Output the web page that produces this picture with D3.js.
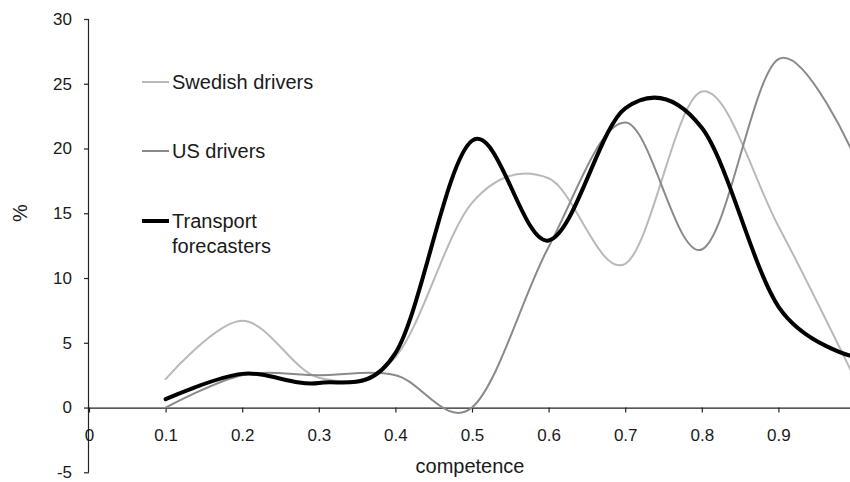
<!DOCTYPE html>
<html>
<head>
<meta charset="utf-8">
<script src="https://cdn.jsdelivr.net/npm/d3@7"></script>
<style>
  html, body { margin: 0; padding: 0; background: #fff; }
  svg { display: block; font-family: "Liberation Sans", Arial, sans-serif; }
</style>
</head>
<body>
<svg id="chart" width="850" height="482"></svg>
<script>
// ---- data ----
const competence = [0.1, 0.2, 0.3, 0.4, 0.5, 0.6, 0.7, 0.8, 0.9, 1.0];
const swedishDrivers = [2.2, 6.7, 2.3, 3.9, 15.8, 17.7, 11.1, 24.4, 14.0, 2.2];
const usDrivers = [0.0, 2.5, 2.5, 2.5, 0.0, 12.4, 22.0, 12.2, 26.9, 19.3];
const transportForecasters = [0.65, 2.6, 1.9, 4.2, 20.6, 12.9, 23.1, 21.6, 7.8, 3.9];
const xTicks = [0, 0.1, 0.2, 0.3, 0.4, 0.5, 0.6, 0.7, 0.8, 0.9, 1];
const yTicks = [-5, 0, 5, 10, 15, 20, 25, 30];
const seriesNames = ["Swedish drivers", "US drivers", "Transport forecasters"];

const series = [
  { name: seriesNames[0], values: swedishDrivers, color: "#b9b9b9", width: 2 },
  { name: seriesNames[1], values: usDrivers, color: "#8a8a8a", width: 2 },
  { name: seriesNames[2], values: transportForecasters, color: "#000000", width: 4 }
];

const svg = d3.select("#chart");
const x = d3.scaleLinear().domain([0, 1]).range([89, 855]);
const y = d3.scaleLinear().domain([-5, 30]).range([472.3, 19]);
const textColor = "#1a1a1a";

// y axis
const yAxis = svg.append("g")
  .attr("transform", `translate(${x(0)},0)`)
  .call(d3.axisLeft(y).tickValues(yTicks).tickSize(5).tickPadding(12).tickFormat(d => String(d)));
yAxis.select(".domain").attr("d", `M-0.5,${y(30)}V${y(-5)}`).attr("stroke", "#222").attr("stroke-width", 1.2);
yAxis.selectAll(".tick line").attr("stroke", "#222").attr("stroke-width", 1.2);
yAxis.selectAll(".tick text").attr("font-size", 17).attr("fill", textColor)
  .attr("font-family", "'Liberation Sans', Arial, sans-serif");

// x axis at y = 0
const xAxis = svg.append("g")
  .attr("transform", `translate(0,${y(0)})`)
  .call(d3.axisBottom(x).tickValues(xTicks).tickSize(5).tickPadding(16)
    .tickFormat(d => d === 0 ? "0" : (d === 1 ? "1" : d3.format(".1f")(d))));
xAxis.select(".domain").attr("d", `M${x(0)},0.5H850`).attr("stroke", "#222").attr("stroke-width", 1.2);
xAxis.selectAll(".tick line").attr("stroke", "#222").attr("stroke-width", 1.2);
xAxis.selectAll(".tick text").attr("font-size", 17).attr("fill", textColor)
  .attr("font-family", "'Liberation Sans', Arial, sans-serif");

// axis titles
svg.append("text")
  .attr("x", 470).attr("y", 473)
  .attr("text-anchor", "middle")
  .attr("font-size", 20).attr("fill", textColor)
  .text("competence");
svg.append("text")
  .attr("transform", "translate(27,213) rotate(-90)")
  .attr("text-anchor", "middle")
  .attr("font-size", 20).attr("fill", textColor)
  .text("%");

// lines
const line = d3.line()
  .x((d, i) => x(competence[i]))
  .y(d => y(d))
  .curve(d3.curveCardinal.tension(0));

svg.append("g").selectAll("path")
  .data(series)
  .join("path")
  .attr("d", s => line(s.values))
  .attr("fill", "none")
  .attr("stroke", s => s.color)
  .attr("stroke-width", s => s.width)
  .attr("stroke-linejoin", "round")
  .attr("stroke-linecap", "round");

// legend
const legendRows = [
  { s: series[0], y: 82, lines: ["Swedish drivers"] },
  { s: series[1], y: 151, lines: ["US drivers"] },
  { s: series[2], y: 221, lines: ["Transport", "forecasters"] }
];
const lg = svg.append("g");
legendRows.forEach(r => {
  lg.append("line")
    .attr("x1", 142).attr("x2", 169)
    .attr("y1", r.y).attr("y2", r.y)
    .attr("stroke", r.s.color).attr("stroke-width", r.s.width);
  const t = lg.append("text")
    .attr("x", 172).attr("y", r.y)
    .attr("font-size", 20).attr("fill", textColor);
  r.lines.forEach((ln, i) => {
    t.append("tspan").attr("x", 172).attr("dy", i === 0 ? "0.36em" : "1.25em").text(ln);
  });
});
</script>
</body>
</html>
